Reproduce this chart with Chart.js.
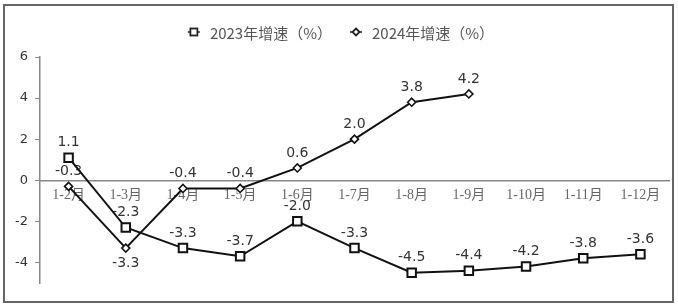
<!DOCTYPE html>
<html>
<head>
<meta charset="utf-8">
<script src="https://cdn.jsdelivr.net/npm/chart.js@4/dist/chart.umd.min.js"></script>
<style>
body{margin:0;background:#fff;}
#frame{position:absolute;left:3px;top:4px;width:671px;height:299px;border:2px solid #666;box-sizing:border-box;}
#c{position:absolute;left:0;top:0;}
</style>
</head>
<body>
<div id="frame"></div>
<canvas id="c" width="678" height="307"></canvas>
<script>

/* data */

const categories=["1-2月","1-3月","1-4月","1-5月","1-6月","1-7月","1-8月","1-9月","1-10月","1-11月","1-12月"];
const growth2023=[1.1,-2.3,-3.3,-3.7,-2.0,-3.3,-4.5,-4.4,-4.2,-3.8,-3.6];
const growth2024=[-0.3,-3.3,-0.4,-0.4,0.6,2.0,3.8,4.2,null,null,null];
const yTicks=[6,4,2,0,-2,-4];
const seriesNames=["2023年增速（%）","2024年增速（%）"];

/* value labels, drawn before the lines so the lines sit on top */

const valueLabels={
id:"valueLabels",
beforeDatasetsDraw(chart){
const ctx=chart.ctx;
ctx.save();
ctx.font='14px "DejaVu Sans"';
ctx.fillStyle="#333";
ctx.textAlign="center";
ctx.textBaseline="middle";
chart.data.datasets.forEach((ds,i)=>{
const meta=chart.getDatasetMeta(i);
meta.data.forEach((pt,j)=>{
const v=ds.data[j];
if(v===null) return;
const below=(ds.labelBelow||[]).includes(j);
ctx.fillText(v.toFixed(1),pt.x,pt.y+(below?15:-15));
});
});
ctx.restore();
}
};

/* legend: short line with marker, then the text */

const lineLegend={
id:"lineLegend",
afterDraw(chart){
const ctx=chart.ctx;
ctx.save();
ctx.font='15px "Noto Sans CJK SC"';
ctx.textBaseline="middle";
const y=32, mark=22, gap=18;
const widths=chart.data.datasets.map(ds=>ctx.measureText(ds.label).width);
let total=widths.reduce((a,b)=>a+b,0)+mark*widths.length+gap*(widths.length-1);
let x=341-total/2;
chart.data.datasets.forEach((ds,i)=>{
ctx.strokeStyle="#222";
ctx.lineWidth=1.5;
ctx.beginPath();
ctx.moveTo(x,y);ctx.lineTo(x+12,y);
ctx.stroke();
ctx.fillStyle="#fff";
ctx.lineWidth=1.8;
if(ds.pointStyle==="rect"){
ctx.fillRect(x+2.5,y-3.5,7,7);
ctx.strokeRect(x+2.5,y-3.5,7,7);
}else{
ctx.beginPath();
ctx.moveTo(x+6,y-3.5);ctx.lineTo(x+9.5,y);ctx.lineTo(x+6,y+3.5);ctx.lineTo(x+2.5,y);
ctx.closePath();ctx.fill();ctx.stroke();
}
ctx.fillStyle="#555";
ctx.fillText(ds.label,x+mark,y+1);
x+=mark+widths[i]+gap;
});
ctx.restore();
}
};

const chart=new Chart(document.getElementById("c"),{
type:"line",
data:{
labels:categories,
datasets:[{
label:seriesNames[0],
data:growth2023,
borderColor:"#111",
borderWidth:2,
pointStyle:"rect",
pointRadius:6,
pointBorderWidth:2,
pointBackgroundColor:"#fff",
pointBorderColor:"#111",
tension:0
},{
label:seriesNames[1],
data:growth2024,
borderColor:"#111",
borderWidth:2,
pointStyle:"rectRot",
pointRadius:4,
pointBorderWidth:1.6,
pointBackgroundColor:"#fff",
pointBorderColor:"#111",
labelBelow:[1],
tension:0
}]
},
options:{
responsive:false,
animation:false,
devicePixelRatio:1,
layout:{padding:{left:0,top:57,right:9,bottom:24}},
plugins:{legend:{display:false},tooltip:{enabled:false}},
scales:{
x:{
type:"category",
position:{y:0},
offset:true,
grid:{display:true,drawOnChartArea:false,drawTicks:false},
border:{display:true,color:"#888",width:1.5},
ticks:{
padding:7,
color:"#666",
font:{family:'"Liberation Serif", "Noto Sans CJK SC"',size:14},
maxRotation:0,
autoSkip:false
}
},
y:{
min:-5,
max:6,
afterBuildTicks:s=>{s.ticks=yTicks.map(v=>({value:v}));},
afterFit:s=>{s.width=40;},
grid:{display:true,drawOnChartArea:false,drawTicks:true,tickLength:5,color:"#888"},
border:{display:true,color:"#888",width:1.5},
ticks:{
padding:7,
color:"#333",
font:{family:'"DejaVu Sans"',size:13}
}
}
}
},
plugins:[valueLabels,lineLegend]
});

</script>
</body>
</html>
